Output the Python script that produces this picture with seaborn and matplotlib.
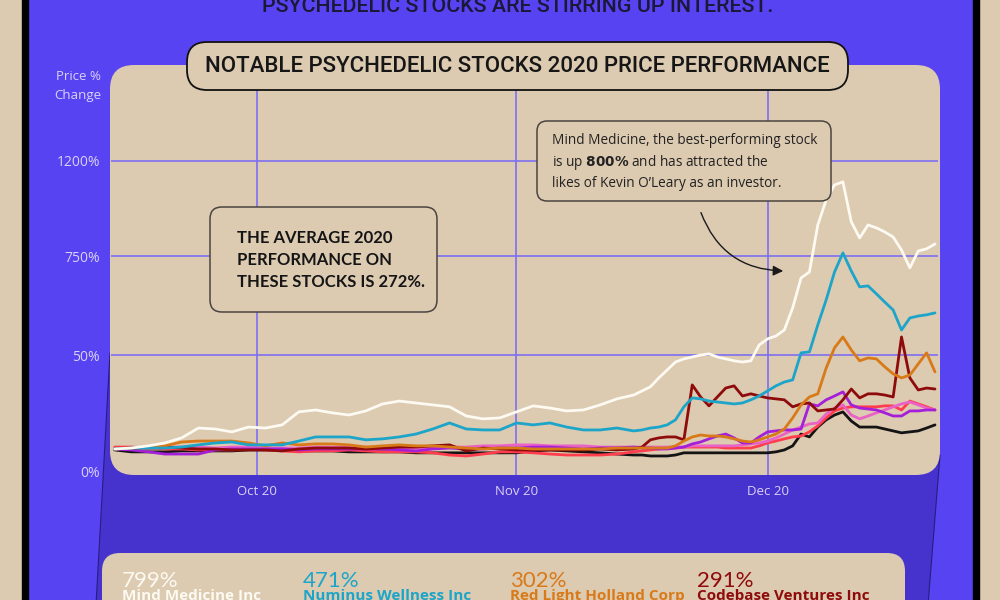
import pandas as pd
import matplotlib
matplotlib.use("Agg")
import matplotlib.pyplot as plt
import matplotlib.dates as mdates
from matplotlib.patches import FancyBboxPatch, Polygon, Rectangle, FancyArrowPatch
import seaborn as sns

# every 2nd day until mid November, then daily
dates = list(pd.date_range("2020-09-14", "2020-11-15", freq="2D")) + \
    list(pd.date_range("2020-11-16", "2020-12-21", freq="D"))

# price % change
mind_medicine = [4, 8, 17, 29, 50, 91, 87, 75, 95, 91, 104, 158, 166, 154, 145, 162, 191, 203, 195, 187, 179, 141,
                 129, 133, 158, 183, 174, 162, 166, 187, 212, 228,
                 245, 262, 299, 332, 365, 378, 386, 394, 399, 386, 378, 370, 365, 370, 436, 461, 473, 498, 590, 714,
                 739, 934, 1038, 1100, 1113, 947, 880, 934, 922, 905, 884, 830, 756, 826, 835, 855]
numinus = [4, 8, 8, 8, 12, 21, 29, 33, 21, 21, 21, 37, 54, 54, 54, 42, 46, 54, 66, 87, 112, 87, 83, 83, 112, 104, 112,
           95, 83, 83, 91, 79,
           83, 91, 95, 104, 125, 179, 216, 212, 203, 199, 195, 191, 195, 208, 224, 245, 266, 282, 291, 403, 407, 519,
           623, 739, 818, 743, 677, 681, 648, 614, 581, 498, 548, 556, 561, 569]
red_light = [4, 8, 12, 17, 33, 37, 37, 37, 29, 17, 29, 21, 25, 25, 21, 12, 17, 21, 17, 17, 12, 8, 4, 8, 8, 4, 4, 4, 4,
             4, 8, 8,
             8, 8, 8, 8, 17, 37, 54, 62, 58, 58, 54, 46, 37, 33, 42, 54, 66, 87, 133, 187, 220, 233, 340, 424, 469,
             415, 370, 382, 378, 345, 316, 299, 311, 357, 403, 324]
codebase = [4, 8, 8, 12, 8, 4, 4, 0, 0, 0, -4, 4, 8, 8, 8, 4, 8, 12, 12, 17, 21, -4, 8, 4, 0, 0, 0, 0, 0, 4, 0, 4,
            12, 42, 50, 54, 54, 42, 270, 220, 183, 220, 257, 266, 224, 233, 224, 216, 212, 208, 179, 191, 195, 162,
            166, 170, 208, 253, 216, 233, 233, 228, 220, 469, 299, 249, 257, 253]
purple = [4, 0, -8, -17, -17, -17, 0, 4, 4, 4, 4, 0, 4, 4, 4, 4, 4, 0, -4, 4, 8, 4, 4, 8, 8, 12, 12, 8, 4, 8, 8, 12,
          8, 8, 4, 4, 8, 12, 25, 33, 46, 58, 66, 50, 29, 29, 54, 75, 79, 83, 83, 87, 191, 183, 208, 224, 241, 187,
          174, 170, 166, 154, 141, 141, 162, 162, 166, 166]
red = [12, 12, 8, 4, 4, 0, 0, 0, 4, 0, -4, -8, -4, -4, 0, -4, -8, -8, -8, -12, -21, -25, -17, -8, -8, -12, -17, -21,
       -21, -21, -17, -8,
       -4, 0, 4, 8, 8, 12, 12, 12, 12, 12, 8, 8, 8, 8, 17, 29, 37, 46, 54, 58, 75, 100, 133, 162, 174, 179, 179, 179,
       179, 183, 183, 166, 203, 191, 179, 166]
pink = [4, 8, 12, 12, 12, 12, 8, 12, 12, 8, 8, 8, 12, 12, 12, 12, 8, 8, 8, 8, 12, 12, 17, 17, 21, 21, 17, 17, 17, 12,
        12, 12,
        12, 12, 12, 12, 12, 12, 17, 17, 17, 17, 17, 17, 21, 25, 29, 37, 50, 66, 83, 95, 108, 112, 149, 174, 187, 145,
        129, 141, 154, 166, 179, 191, 199, 187, 174, 166]
black = [0, -8, -8, -8, -4, -4, -4, -4, 0, 0, 0, -4, -4, -4, -8, -8, -8, -8, -12, -12, -12, -12, -12, -12, -12, -4, 0,
         -4, -8, -12, -17, -21,
         -21, -25, -25, -25, -21, -12, -12, -12, -12, -12, -12, -12, -12, -12, -12, -12, -8, 0, 17, 66, 54, 95, 125,
         145, 158, 120, 95, 95, 95, 87, 79, 71, 75, 79, 91, 104]

series = {
    "black": black, "red": red, "pink": pink, "purple": purple,
    "Codebase Ventures Inc": codebase, "Red Light Holland Corp": red_light,
    "Numinus Wellness Inc": numinus, "Mind Medicine Inc": mind_medicine,
}
colors = {
    "black": "#141414", "red": "#ff3d4d", "pink": "#ea62c6", "purple": "#a51fd8",
    "Codebase Ventures Inc": "#8e0b0b", "Red Light Holland Corp": "#d97a18",
    "Numinus Wellness Inc": "#1ca5c9", "Mind Medicine Inc": "#fdfaf2",
}
legend_names = ["Mind Medicine Inc", "Numinus Wellness Inc", "Red Light Holland Corp", "Codebase Ventures Inc"]
legend_pct = ["799%", "471%", "302%", "291%"]

ytick_pos = [-91, 394, 805, 1200]
ytick_labels = ["0%", "50%", "750%", "1200%"]

rows = []
for name, vals in series.items():
    assert len(vals) == len(dates), name
    for d, v in zip(dates, vals):
        rows.append({"date": d, "change": v, "stock": name})
df = pd.DataFrame(rows)

BLUE = "#5843f2"
DARK_BLUE = "#4632cc"
BEIGE = "#dccab1"
GRID = "#7d6ef2"
PALE = "#d9d2f6"
HEAD = ["Roboto", "DejaVu Sans"]

sns.set_style("white")
plt.rcParams["font.family"] = ["Open Sans", "DejaVu Sans"]

fig = plt.figure(figsize=(10, 6), dpi=100, facecolor=BEIGE)

# background in pixel coordinates
bg = fig.add_axes([0, 0, 1, 1], zorder=0)
bg.set_xlim(0, 1000)
bg.set_ylim(600, 0)
bg.axis("off")
bg.add_patch(Rectangle((28, -5), 945, 610, color=BLUE))
bg.add_patch(Rectangle((22, -5), 6, 610, color="black"))
bg.add_patch(Rectangle((973, -5), 6, 610, color="black"))
bg.add_patch(Polygon([(110, 353), (940, 455), (928, 605), (96, 605)], closed=True,
                     facecolor=DARK_BLUE, edgecolor="#2a1d80", lw=0.8))
bg.add_patch(FancyBboxPatch((110, 65), 830, 410, boxstyle="round,pad=0,rounding_size=24",
                            facecolor=BEIGE, edgecolor="none"))
bg.add_patch(FancyBboxPatch((102, 553), 803, 90, boxstyle="round,pad=0,rounding_size=18",
                            facecolor=BEIGE, edgecolor="none"))
bg.text(518, 7, "PSYCHEDELIC STOCKS ARE STIRRING UP INTEREST.", ha="center", va="center",
        fontsize=15.4, color="#1c1838", family=HEAD, weight="medium")
bg.text(78, 77, "Price %", ha="center", va="center", fontsize=9.5, color=PALE)
bg.text(78, 95, "Change", ha="center", va="center", fontsize=9.5, color=PALE)

legend_x = [122, 303, 510, 697]
for x, pct, name in zip(legend_x, legend_pct, legend_names):
    bg.text(x, 581, pct, ha="left", va="center", fontsize=16, color=colors[name],
            family=["Lato", "DejaVu Sans"])
    bg.text(x, 596, name, ha="left", va="center", fontsize=11, color=colors[name], weight="bold")

# data axes over the panel
ax = fig.add_axes([0.111, 125 / 600, 0.827, 410 / 600], zorder=2)
ax.patch.set_alpha(0)
origin = pd.Timestamp("2020-10-01")
ax.set_xlim(origin + pd.Timedelta(days=-17.44), origin + pd.Timedelta(days=81.36))
ax.set_ylim(-104, 1598)

month_starts = [pd.Timestamp("2020-10-01"), pd.Timestamp("2020-11-01"), pd.Timestamp("2020-12-01")]
for m in month_starts:
    ax.axvline(m, color=GRID, lw=1.2, zorder=0)
for v in ytick_pos[1:]:
    ax.axhline(v, color=GRID, lw=1.2, zorder=0)

sns.lineplot(data=df, x="date", y="change", hue="stock", hue_order=list(series.keys()),
             palette=colors, linewidth=2, legend=False, ax=ax)

ax.set_xticks(month_starts)
ax.xaxis.set_major_formatter(mdates.DateFormatter("%b %y"))
ax.set_yticks(ytick_pos)
ax.set_yticklabels(ytick_labels)
ax.tick_params(axis="x", length=0, pad=7, labelsize=9.5, labelcolor=PALE)
ax.tick_params(axis="y", length=0, pad=8, labelsize=10, labelcolor=PALE)
ax.set_xlabel("")
ax.set_ylabel("")
for s in ax.spines.values():
    s.set_visible(False)

# overlay: title box and notes
top = fig.add_axes([0, 0, 1, 1], zorder=5)
top.set_xlim(0, 1000)
top.set_ylim(600, 0)
top.axis("off")
top.patch.set_alpha(0)
top.add_patch(FancyBboxPatch((187, 42), 661, 48, boxstyle="round,pad=0,rounding_size=20",
                             facecolor=BEIGE, edgecolor="#111111", lw=1.3))
top.text(517, 67, "NOTABLE PSYCHEDELIC STOCKS 2020 PRICE PERFORMANCE", ha="center", va="center",
         fontsize=16, color="#161616", family=HEAD, weight="medium")

top.add_patch(FancyBboxPatch((210, 207), 227, 105, boxstyle="round,pad=0,rounding_size=12",
                             facecolor=BEIGE, edgecolor="#4a4540", lw=1.1))
top.text(237, 260, "THE AVERAGE 2020\nPERFORMANCE ON\nTHESE STOCKS IS 272%.", ha="left", va="center",
         fontsize=12, color="#151515", linespacing=1.45, family=["Lato", "DejaVu Sans"], weight="bold")

top.add_patch(FancyBboxPatch((537, 121), 294, 80, boxstyle="round,pad=0,rounding_size=10",
                             facecolor=BEIGE, edgecolor="#4a4540", lw=1.1))
top.text(552, 162, "Mind Medicine, the best-performing stock\n"
                   r"is up $\mathbf{800\%}$ and has attracted the" "\n"
                   "likes of Kevin O\u2019Leary as an investor.",
         ha="left", va="center", fontsize=9.8, color="#222222", linespacing=1.35)

top.add_artist(FancyArrowPatch((700, 210), (786, 271), connectionstyle="arc3,rad=0.35",
                               arrowstyle="-|>,head_length=6,head_width=3", color="#1a1a1a", lw=1))

fig.savefig("out.png", dpi=100, facecolor=BEIGE)
